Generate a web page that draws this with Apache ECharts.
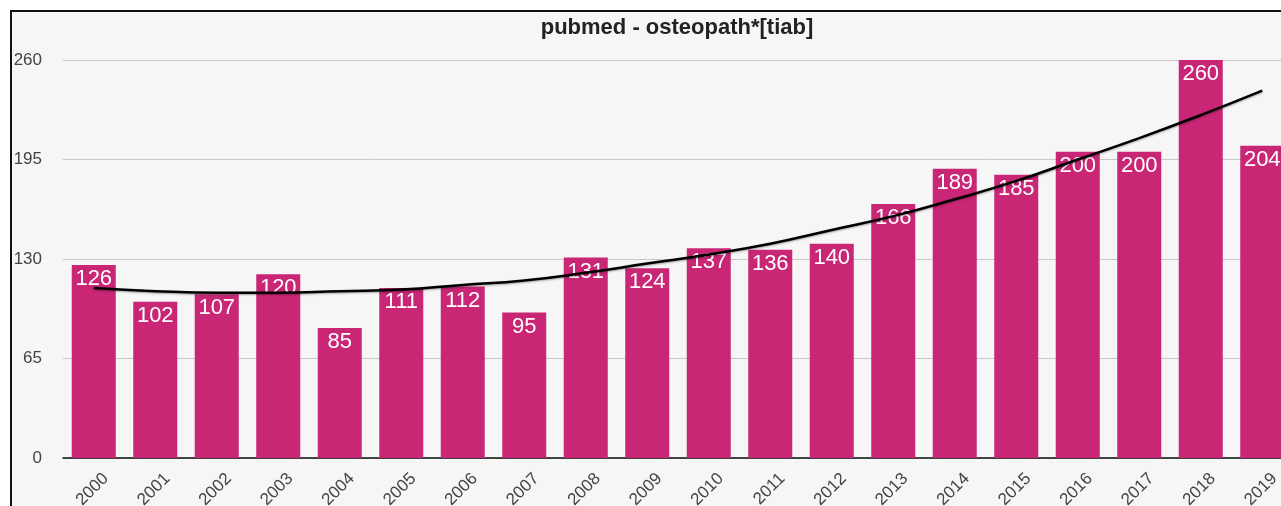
<!DOCTYPE html>
<html>
<head>
<meta charset="utf-8">
<script src="https://cdn.jsdelivr.net/npm/echarts@6/dist/echarts.min.js"></script>
<style>
  html, body { margin: 0; padding: 0; background: #ffffff; overflow: hidden; width: 1281px; height: 506px; }
  #frame { position: absolute; left: 10px; top: 10px; width: 1400px; height: 600px; border: 2px solid #111; background: #f6f6f6; box-sizing: border-box; }
  #chart { position: absolute; left: 0; top: 0; width: 1354px; height: 506px; }
</style>
</head>
<body>
<div id="frame"></div>
<div id="chart"></div>
<script>
const titleText = 'pubmed - osteopath*[tiab]';
const years = ['2000','2001','2002','2003','2004','2005','2006','2007','2008','2009',
               '2010','2011','2012','2013','2014','2015','2016','2017','2018','2019'];
const counts = [126, 102, 107, 120, 85, 111, 112, 95, 131, 124,
                137, 136, 140, 166, 189, 185, 200, 200, 260, 204];
// trend line values at each year
const trend = [111, 109, 108, 108, 109, 110, 113, 116, 121, 127,
               133, 140, 149, 158, 169, 181, 195, 209, 224, 240];
const yMin = 0, yMax = 260, yStep = 65;

const fontFam = '"Liberation Sans", Arial, Helvetica, sans-serif';
const chart = echarts.init(document.getElementById('chart'), null, { renderer: 'canvas' });
chart.setOption({
  backgroundColor: 'transparent',
  animation: false,
  title: {
    text: titleText,
    left: 'center',
    top: 12,
    textStyle: { fontFamily: fontFam, fontSize: 22, fontWeight: 'bold', color: '#222' }
  },
  grid: { left: 63, right: 61, top: 60, bottom: 48, containLabel: false, outerBoundsMode: 'none' },
  xAxis: {
    type: 'category',
    data: years,
    axisTick: { show: false },
    axisLine: { lineStyle: { color: '#111', width: 1.5 } },
    axisLabel: {
      rotate: 45,
      margin: 6,
      verticalAlign: 'top',
      lineHeight: 34,
      fontFamily: fontFam,
      fontSize: 17,
      color: '#444',
      interval: 0
    }
  },
  yAxis: {
    type: 'value',
    min: yMin, max: yMax, interval: yStep,
    axisLine: { show: false },
    axisTick: { show: false },
    splitLine: { lineStyle: { color: '#c8c8c8', width: 1 } },
    axisLabel: { margin: 21, fontFamily: fontFam, fontSize: 17, color: '#444' }
  },
  series: [
    {
      type: 'bar',
      data: counts,
      barWidth: 44,
      itemStyle: { color: '#c92676' },
      label: {
        show: true,
        position: 'insideTop',
        distance: 3,
        color: '#ffffff',
        fontFamily: fontFam,
        fontSize: 22
      },
      z: 2
    },
    {
      type: 'line',
      data: trend,
      smooth: true,
      showSymbol: false,
      symbol: 'none',
      lineStyle: { color: '#000', width: 2.5, shadowColor: 'rgba(0,0,0,0.35)', shadowBlur: 2, shadowOffsetY: 1 },
      z: 5
    }
  ]
});
</script>
</body>
</html>
